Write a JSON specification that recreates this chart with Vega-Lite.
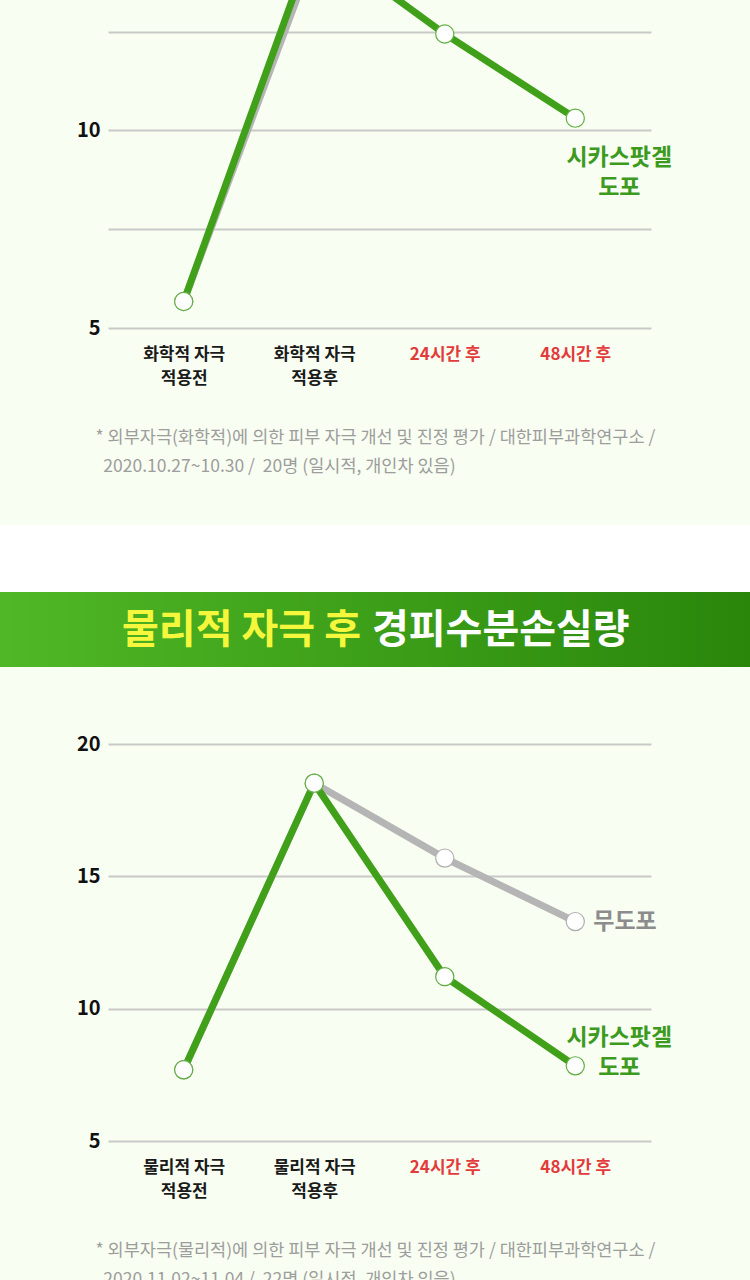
{
  "$schema": "https://vega.github.io/schema/vega-lite/v6.json",
  "background": "#f8fef1",
  "padding": 0,
  "config": {
    "view": {"stroke": null},
    "font": "Noto Sans CJK KR"
  },
  "datasets": {
    "chemical": [
      {"series": "무도포", "stage": "화학적 자극 적용전", "value": 5.67},
      {"series": "무도포", "stage": "화학적 자극 적용후", "value": 14.5},
      {"series": "무도포", "stage": "24시간 후", "value": 14.0},
      {"series": "무도포", "stage": "48시간 후", "value": 13.7},
      {"series": "시카스팟겔 도포", "stage": "화학적 자극 적용전", "value": 5.67},
      {"series": "시카스팟겔 도포", "stage": "화학적 자극 적용후", "value": 14.85},
      {"series": "시카스팟겔 도포", "stage": "24시간 후", "value": 12.44},
      {"series": "시카스팟겔 도포", "stage": "48시간 후", "value": 10.31}
    ],
    "physical": [
      {"series": "무도포", "stage": "물리적 자극 적용전", "value": 7.69},
      {"series": "무도포", "stage": "물리적 자극 적용후", "value": 18.52},
      {"series": "무도포", "stage": "24시간 후", "value": 15.69},
      {"series": "무도포", "stage": "48시간 후", "value": 13.29},
      {"series": "시카스팟겔 도포", "stage": "물리적 자극 적용전", "value": 7.69},
      {"series": "시카스팟겔 도포", "stage": "물리적 자극 적용후", "value": 18.52},
      {"series": "시카스팟겔 도포", "stage": "24시간 후", "value": 11.21},
      {"series": "시카스팟겔 도포", "stage": "48시간 후", "value": 7.84}
    ]
  },
  "spacing": 67,
  "vconcat": [
    {
      "spacing": 50,
      "vconcat": [
        {
          "width": 750,
          "height": 328,
          "data": {"name": "chemical"},
          "encoding": {
            "x": {
              "field": "stage", "type": "ordinal", "sort": null,
              "scale": {"type": "point", "domain": ["화학적 자극 적용전", "화학적 자극 적용후", "24시간 후", "48시간 후"], "range": [108, 651], "padding": 0.58},
              "axis": {
                "domain": false, "ticks": false, "grid": false, "labelAngle": 0,
                "labelExpr": "length(datum.label) > 8 ? [substring(datum.label, 0, 6), substring(datum.label, 7)] : datum.label",
                "labelFontSize": 17, "labelFontWeight": "bold", "labelLineHeight": 24, "labelPadding": 18,
                "labelColor": {"condition": {"test": "indexof(datum.value, '시간') >= 0", "value": "#e23b3b"}, "value": "#1a1a1a"},
                "title": ["* 외부자극(화학적)에 의한 피부 자극 개선 및 진정 평가 / 대한피부과학연구소 /", "\u200b\u00a0\u00a02020.10.27~10.30 /\u00a0\u00a020명 (일시적, 개인차 있음)"],
                "titleX": 95, "titleY": 100, "titleAlign": "left", "titleAnchor": "start", "titleBaseline": "top",
                "titleFontSize": 17.5, "titleFontWeight": "normal", "titleColor": "#9d9d9d", "titleLineHeight": 29
              }
            },
            "y": {
              "field": "value", "type": "quantitative",
              "scale": {"domain": [5, 13.3], "nice": false, "zero": false},
              "axis": {
                "title": null, "values": [5, 7.5, 10, 12.5],
                "labelExpr": "datum.value % 5 === 0 ? datum.label : ''",
                "domain": false, "ticks": false, "offset": -108, "labelPadding": 8,
                "labelFontSize": 20, "labelFontWeight": "bold", "labelColor": "#111111",
                "grid": true, "gridColor": "#c9c9c9", "gridWidth": 2
              }
            }
          },
          "layer": [
            {"transform": [{"filter": "datum.series === '무도포'"}], "mark": {"type": "line", "color": "#b5b5b5", "strokeWidth": 7, "clip": true}},
            {"transform": [{"filter": "datum.series === '시카스팟겔 도포'"}], "mark": {"type": "line", "color": "#41a01a", "strokeWidth": 7, "clip": true}},
            {"transform": [{"filter": "datum.series === '무도포'"}], "mark": {"type": "point", "filled": true, "fill": "#ffffff", "stroke": "#b0b0b0", "strokeWidth": 1.2, "size": 330, "opacity": 1, "clip": true}},
            {"transform": [{"filter": "datum.series === '시카스팟겔 도포'"}], "mark": {"type": "point", "filled": true, "fill": "#ffffff", "stroke": "#5fae40", "strokeWidth": 1.2, "size": 330, "opacity": 1, "clip": true}},
            {"transform": [{"filter": "datum.series === '무도포' && datum.stage === '48시간 후'"}], "mark": {"type": "text", "align": "left", "baseline": "middle", "dx": 18, "fontSize": 23, "fontWeight": "bold", "color": "#8c8c8c", "clip": true}, "encoding": {"text": {"field": "series"}}},
            {"transform": [{"filter": "datum.series === '시카스팟겔 도포' && datum.stage === '48시간 후'"}], "mark": {"type": "text", "align": "center", "baseline": "middle", "lineBreak": " ", "lineHeight": 30, "dx": 44, "dy": 40, "fontSize": 23, "fontWeight": "bold", "color": "#3c9a1e"}, "encoding": {"text": {"field": "series"}}}
          ]
        },
        {
          "spacing": 0,
          "vconcat": [
            {
              "width": 750,
              "height": 67,
              "data": {"values": [{"band": "gap"}]},
              "mark": {"type": "rect", "fill": "#ffffff"},
              "encoding": {}
            },
            {
              "width": 750,
              "height": 75,
              "data": {"values": [{"lead": "물리적 자극 후", "rest": "경피수분손실량"}]},
              "layer": [
                {"mark": {"type": "rect", "fill": {"gradient": "linear", "x1": 0, "y1": 0, "x2": 1, "y2": 0, "stops": [{"offset": 0, "color": "#50b826"}, {"offset": 1, "color": "#29860b"}]}}, "encoding": {}},
                {"mark": {"type": "text", "align": "right", "baseline": "middle", "dx": -14, "dy": 1, "fontSize": 40, "fontWeight": "bold", "color": "#f5f73c"}, "encoding": {"text": {"field": "lead"}}},
                {"mark": {"type": "text", "align": "left", "baseline": "middle", "dx": -3, "dy": 1, "fontSize": 40, "fontWeight": "bold", "color": "#ffffff"}, "encoding": {"text": {"field": "rest"}}}
              ]
            }
          ]
        }
      ]
    },
    {
      "width": 750,
      "height": 397,
      "data": {"name": "physical"},
      "encoding": {
        "x": {
          "field": "stage", "type": "ordinal", "sort": null,
          "scale": {"type": "point", "domain": ["물리적 자극 적용전", "물리적 자극 적용후", "24시간 후", "48시간 후"], "range": [108, 651], "padding": 0.58},
          "axis": {
            "domain": false, "ticks": false, "grid": false, "labelAngle": 0,
            "labelExpr": "length(datum.label) > 8 ? [substring(datum.label, 0, 6), substring(datum.label, 7)] : datum.label",
            "labelFontSize": 17, "labelFontWeight": "bold", "labelLineHeight": 24, "labelPadding": 18,
            "labelColor": {"condition": {"test": "indexof(datum.value, '시간') >= 0", "value": "#e23b3b"}, "value": "#1a1a1a"},
            "title": ["* 외부자극(물리적)에 의한 피부 자극 개선 및 진정 평가 / 대한피부과학연구소 /", "\u200b\u00a0\u00a02020.11.02~11.04 /\u00a0\u00a022명 (일시적, 개인차 있음)"],
            "titleX": 95, "titleY": 100, "titleAlign": "left", "titleAnchor": "start", "titleBaseline": "top",
            "titleFontSize": 17.5, "titleFontWeight": "normal", "titleColor": "#9d9d9d", "titleLineHeight": 29
          }
        },
        "y": {
          "field": "value", "type": "quantitative",
          "scale": {"domain": [5, 20], "nice": false, "zero": false},
          "axis": {
            "title": null, "values": [5, 10, 15, 20],
            "domain": false, "ticks": false, "offset": -108, "labelPadding": 8,
            "labelFontSize": 20, "labelFontWeight": "bold", "labelColor": "#111111",
            "grid": true, "gridColor": "#c9c9c9", "gridWidth": 2
          }
        }
      },
      "layer": [
        {"transform": [{"filter": "datum.series === '무도포'"}], "mark": {"type": "line", "color": "#b5b5b5", "strokeWidth": 7, "clip": true}},
        {"transform": [{"filter": "datum.series === '시카스팟겔 도포'"}], "mark": {"type": "line", "color": "#41a01a", "strokeWidth": 7, "clip": true}},
        {"transform": [{"filter": "datum.series === '무도포'"}], "mark": {"type": "point", "filled": true, "fill": "#ffffff", "stroke": "#b0b0b0", "strokeWidth": 1.2, "size": 330, "opacity": 1}},
        {"transform": [{"filter": "datum.series === '시카스팟겔 도포'"}], "mark": {"type": "point", "filled": true, "fill": "#ffffff", "stroke": "#5fae40", "strokeWidth": 1.2, "size": 330, "opacity": 1}},
        {"transform": [{"filter": "datum.series === '무도포' && datum.stage === '48시간 후'"}], "mark": {"type": "text", "align": "left", "baseline": "middle", "dx": 18, "fontSize": 23, "fontWeight": "bold", "color": "#8c8c8c"}, "encoding": {"text": {"field": "series"}}},
        {"transform": [{"filter": "datum.series === '시카스팟겔 도포' && datum.stage === '48시간 후'"}], "mark": {"type": "text", "align": "center", "baseline": "middle", "lineBreak": " ", "lineHeight": 30, "dx": 44, "dy": -28, "fontSize": 23, "fontWeight": "bold", "color": "#3c9a1e"}, "encoding": {"text": {"field": "series"}}}
      ]
    }
  ]
}
